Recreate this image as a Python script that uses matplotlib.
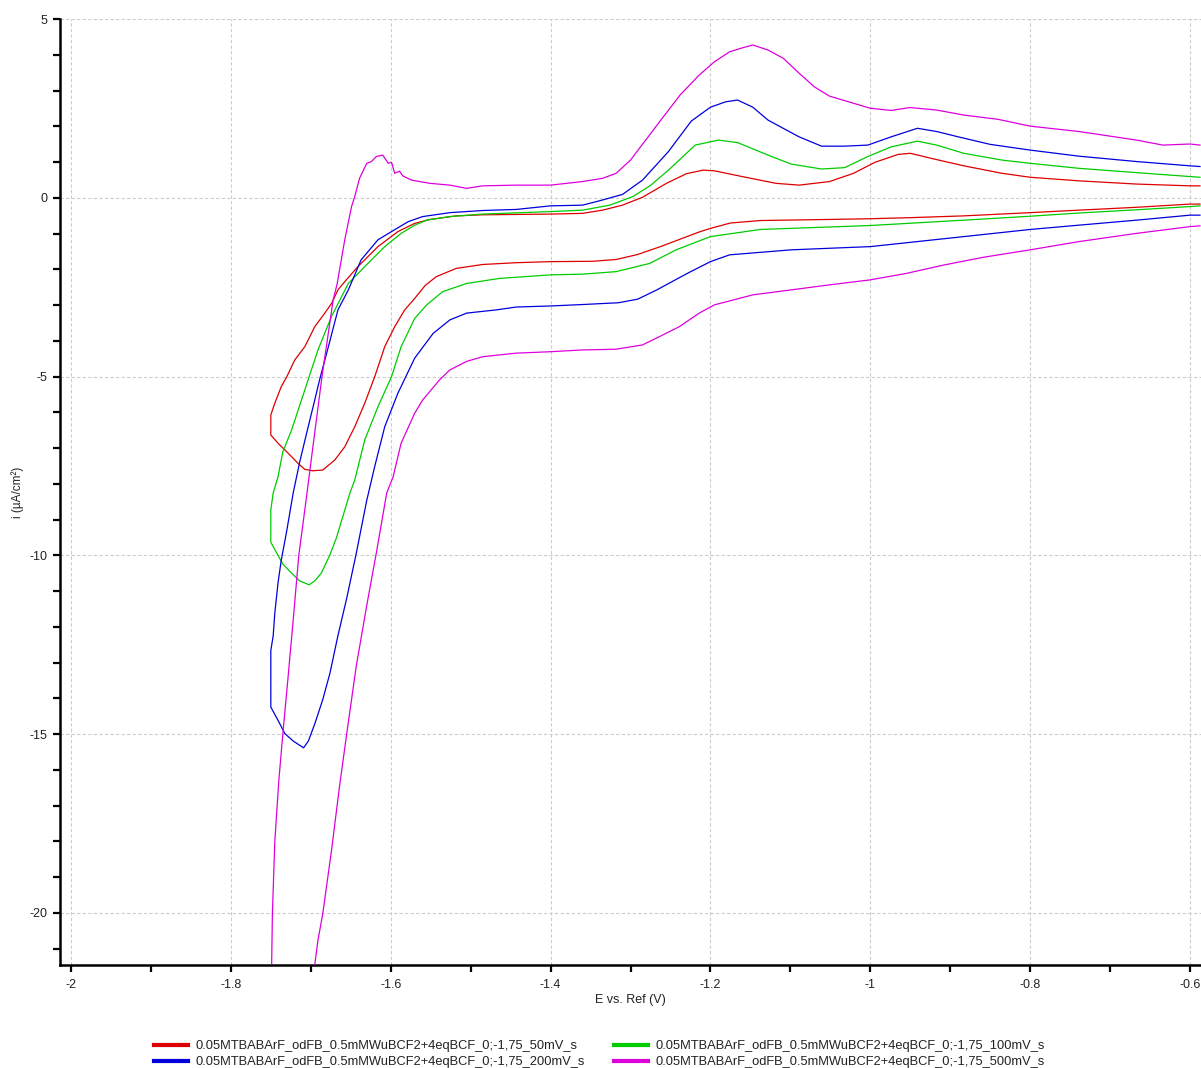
import matplotlib
matplotlib.use("Agg")
import matplotlib.pyplot as plt
from matplotlib.ticker import MultipleLocator, FixedLocator, FixedFormatter

plt.rcParams['font.family'] = ['Liberation Sans Narrow', 'Liberation Sans', 'DejaVu Sans']

# ---------------- cyclic voltammograms (E in V, i in uA/cm2) ----------------
# forward scan: 0 V -> -1.75 V, reverse scan: -1.75 V -> 0 V

labels = [
    "0.05MTBABArF_odFB_0.5mMWuBCF2+4eqBCF_0;-1,75_50mV_s",
    "0.05MTBABArF_odFB_0.5mMWuBCF2+4eqBCF_0;-1,75_100mV_s",
    "0.05MTBABArF_odFB_0.5mMWuBCF2+4eqBCF_0;-1,75_200mV_s",
    "0.05MTBABArF_odFB_0.5mMWuBCF2+4eqBCF_0;-1,75_500mV_s",
]
colors = ["#dd0000", "#00cc00", "#0000dd", "#dd00dd"]

# 50 mV/s
red_fwd_E = [-0.5875, -0.6, -0.667, -0.739, -0.8, -0.883, -0.95, -1.0, -1.051, -1.1375, -1.175,
             -1.2, -1.214, -1.2625, -1.291, -1.318, -1.347, -1.40, -1.443, -1.485, -1.518, -1.543,
             -1.557, -1.57, -1.5825, -1.595, -1.6075, -1.62, -1.6325, -1.645, -1.6575, -1.67,
             -1.685, -1.6975, -1.7075, -1.716, -1.730, -1.741, -1.75]
red_fwd_i = [-0.17, -0.17, -0.26, -0.34, -0.41, -0.50, -0.55, -0.58, -0.60, -0.63, -0.70,
             -0.85, -0.95, -1.36, -1.58, -1.72, -1.77, -1.78, -1.81, -1.86, -1.97, -2.20,
             -2.45, -2.81, -3.13, -3.60, -4.16, -5.00, -5.74, -6.40, -6.96, -7.33,
             -7.61, -7.63, -7.59, -7.42, -7.10, -6.86, -6.63]
red_rev_E = [-1.75, -1.745, -1.737, -1.730, -1.72, -1.7075, -1.695, -1.6825, -1.674, -1.666,
             -1.6575, -1.641, -1.616, -1.591, -1.57, -1.551, -1.518, -1.485, -1.40, -1.36,
             -1.335, -1.31, -1.285, -1.255, -1.23, -1.209, -1.195, -1.156, -1.118, -1.089,
             -1.051, -1.021, -0.994, -0.965, -0.950, -0.922, -0.883, -0.835, -0.8, -0.739,
             -0.667, -0.6, -0.5875]
red_rev_i = [-6.07, -5.74, -5.28, -5.00, -4.53, -4.16, -3.60, -3.22, -2.95, -2.57,
             -2.34, -1.92, -1.36, -0.94, -0.71, -0.60, -0.50, -0.47, -0.45, -0.43,
             -0.34, -0.20, 0.02, 0.41, 0.68, 0.78, 0.76, 0.58, 0.41, 0.36,
             0.46, 0.69, 1.00, 1.22, 1.25, 1.10, 0.90, 0.69, 0.58, 0.48,
             0.39, 0.34, 0.34]

# 100 mV/s
green_fwd_E = [-0.5875, -0.6, -0.667, -0.739, -0.8, -0.883, -1.0, -1.1375, -1.2, -1.243, -1.276,
               -1.318, -1.36, -1.40, -1.464, -1.505, -1.535, -1.555, -1.57, -1.587, -1.599,
               -1.616, -1.6325, -1.645, -1.651, -1.668, -1.676, -1.687, -1.695, -1.702, -1.714,
               -1.726, -1.735, -1.75]
green_fwd_i = [-0.22, -0.24, -0.33, -0.42, -0.51, -0.62, -0.77, -0.88, -1.08, -1.45, -1.83,
               -2.06, -2.13, -2.15, -2.25, -2.39, -2.62, -2.99, -3.37, -4.16, -5.00,
               -5.84, -6.77, -7.89, -8.25, -9.51, -9.98, -10.50, -10.71, -10.82, -10.71,
               -10.45, -10.24, -9.63]
green_rev_E = [-1.75, -1.747, -1.741, -1.735, -1.724, -1.7075, -1.691, -1.674, -1.653, -1.6325,
               -1.6075, -1.587, -1.57, -1.555, -1.526, -1.485, -1.40, -1.36, -1.326, -1.297,
               -1.275, -1.2525, -1.219, -1.19, -1.166, -1.128, -1.099, -1.061, -1.032, -1.003,
               -0.974, -0.941, -0.917, -0.883, -0.835, -0.8, -0.739, -0.667, -0.6, -0.5875]
green_rev_i = [-8.72, -8.25, -7.80, -7.10, -6.49, -5.37, -4.25, -3.31, -2.39, -1.92,
               -1.36, -0.99, -0.76, -0.62, -0.52, -0.45, -0.38, -0.34, -0.20, 0.04,
               0.35, 0.78, 1.48, 1.62, 1.55, 1.20, 0.95, 0.81, 0.85, 1.16,
               1.43, 1.59, 1.48, 1.25, 1.06, 0.97, 0.83, 0.71, 0.60, 0.58]

# 200 mV/s
blue_fwd_E = [-0.5875, -0.6, -0.667, -0.739, -0.8, -0.883, -1.0, -1.099, -1.1375, -1.176, -1.2,
              -1.229, -1.267, -1.291, -1.315, -1.36, -1.40, -1.443, -1.468, -1.505, -1.526,
              -1.547, -1.57, -1.591, -1.6075, -1.62, -1.630, -1.643, -1.655, -1.666, -1.676,
              -1.685, -1.695, -1.703, -1.709, -1.722, -1.7325, -1.741, -1.75]
blue_fwd_i = [-0.48, -0.48, -0.62, -0.76, -0.88, -1.08, -1.36, -1.45, -1.52, -1.59, -1.78,
              -2.11, -2.57, -2.83, -2.93, -2.98, -3.02, -3.05, -3.13, -3.22, -3.41,
              -3.79, -4.48, -5.46, -6.40, -7.51, -8.46, -9.93, -11.19, -12.24, -13.29,
              -14.03, -14.71, -15.19, -15.38, -15.19, -14.98, -14.61, -14.24]
blue_rev_E = [-1.75, -1.747, -1.745, -1.741, -1.737, -1.730, -1.722, -1.714, -1.705, -1.697,
              -1.689, -1.678, -1.666, -1.653, -1.637, -1.616, -1.599, -1.578, -1.56, -1.526,
              -1.485, -1.443, -1.40, -1.36, -1.339, -1.31, -1.285, -1.2525, -1.224, -1.2,
              -1.181, -1.166, -1.147, -1.128, -1.109, -1.089, -1.061, -1.032, -1.003, -0.974,
              -0.941, -0.917, -0.888, -0.850, -0.8, -0.739, -0.667, -0.6, -0.5875]
blue_rev_i = [-12.66, -12.24, -11.61, -10.77, -10.14, -9.30, -8.25, -7.40, -6.56, -5.83,
              -5.09, -4.16, -3.13, -2.57, -1.73, -1.17, -0.94, -0.66, -0.52, -0.41,
              -0.35, -0.32, -0.22, -0.20, -0.08, 0.10, 0.50, 1.30, 2.15, 2.54,
              2.69, 2.74, 2.54, 2.18, 1.95, 1.71, 1.45, 1.45, 1.48, 1.71,
              1.95, 1.86, 1.70, 1.50, 1.34, 1.17, 1.02, 0.90, 0.88]

# 500 mV/s
mag_fwd_E = [-0.5875, -0.6, -0.667, -0.739, -0.8, -0.859, -0.907, -0.955, -1.0, -1.051, -1.099,
             -1.147, -1.195, -1.214, -1.239, -1.264, -1.285, -1.318, -1.36, -1.40, -1.443,
             -1.485, -1.505, -1.526, -1.539, -1.56, -1.57, -1.587, -1.597, -1.605, -1.618,
             -1.630, -1.643, -1.655, -1.664, -1.674, -1.685, -1.691, -1.70, -1.72, -1.75]
mag_fwd_i = [-0.78, -0.80, -0.99, -1.22, -1.45, -1.66, -1.87, -2.11, -2.29, -2.43, -2.57,
             -2.71, -2.99, -3.22, -3.60, -3.88, -4.11, -4.23, -4.25, -4.30, -4.34,
             -4.44, -4.57, -4.81, -5.09, -5.65, -6.02, -6.86, -7.80, -8.25, -9.93,
             -11.40, -13.08, -14.98, -16.45, -18.24, -20.02, -20.76, -22.30, -24.50, -25.50]
mag_rev_E = [-1.75, -1.749, -1.748, -1.745, -1.740, -1.735, -1.728, -1.722, -1.715, -1.705,
             -1.697, -1.686, -1.672, -1.667, -1.6575, -1.649, -1.645, -1.639, -1.630,
             -1.624, -1.618, -1.610, -1.603, -1.599, -1.595, -1.589, -1.585, -1.574, -1.551,
             -1.526, -1.505, -1.485, -1.443, -1.40, -1.36, -1.335, -1.318, -1.30, -1.281,
             -1.262, -1.238, -1.214, -1.195, -1.176, -1.160, -1.147, -1.128, -1.109, -1.089,
             -1.07, -1.051, -1.027, -1.0, -0.974, -0.95, -0.917, -0.883, -0.840, -0.8,
             -0.739, -0.667, -0.634, -0.6, -0.5875]
mag_rev_i = [-23.00, -21.50, -20.00, -18.00, -16.30, -15.00, -13.30, -11.80, -10.00, -8.30,
             -6.90, -5.00, -2.85, -2.40, -1.17, -0.24, 0.04, 0.55, 0.97,
             1.02, 1.16, 1.20, 0.97, 1.00, 0.69, 0.75, 0.62, 0.50, 0.41,
             0.36, 0.27, 0.34, 0.36, 0.36, 0.46, 0.55, 0.69, 1.06, 1.62,
             2.18, 2.88, 3.44, 3.81, 4.09, 4.20, 4.28, 4.14, 3.91, 3.49,
             3.11, 2.85, 2.69, 2.51, 2.45, 2.53, 2.46, 2.32, 2.20, 2.01,
             1.86, 1.62, 1.48, 1.51, 1.48]

curves = [
    (red_fwd_E, red_fwd_i, red_rev_E, red_rev_i),
    (green_fwd_E, green_fwd_i, green_rev_E, green_rev_i),
    (blue_fwd_E, blue_fwd_i, blue_rev_E, blue_rev_i),
    (mag_fwd_E, mag_fwd_i, mag_rev_E, mag_rev_i),
]

x_ticks = [-2.0, -1.8, -1.6, -1.4, -1.2, -1.0, -0.8, -0.6]
x_ticklabels = ["-2", "-1.8", "-1.6", "-1.4", "-1.2", "-1", "-0.8", "-0.6"]
y_ticks = [-20, -15, -10, -5, 0, 5]
y_ticklabels = ["-20", "-15", "-10", "-5", "0", "5"]

# ---------------- figure ----------------
W, H = 1201, 1068
fig = plt.figure(figsize=(W / 100, H / 100), dpi=100)
ax = fig.add_axes([60 / W, (H - 965) / H, (W - 60) / W, (965 - 19) / H])

lines = []
for (fe, fi, re, ri), col in zip(curves, colors):
    ln, = ax.plot(list(fe) + list(re), list(fi) + list(ri), color=col, lw=0.9,
                  solid_joinstyle='round', zorder=3)
    lines.append(ln)

ax.set_xlim(-2.01375, -0.58625)
ax.set_ylim(-21.455, 5.007)

for s in ("top", "right"):
    ax.spines[s].set_visible(False)
for s in ("left", "bottom"):
    ax.spines[s].set_linewidth(1.8)
    ax.spines[s].set_color("black")

ax.xaxis.set_major_locator(FixedLocator(x_ticks))
ax.xaxis.set_major_formatter(FixedFormatter(x_ticklabels))
ax.xaxis.set_minor_locator(MultipleLocator(0.1))
ax.yaxis.set_major_locator(FixedLocator(y_ticks))
ax.yaxis.set_major_formatter(FixedFormatter(y_ticklabels))
ax.yaxis.set_minor_locator(MultipleLocator(1))

ax.tick_params(which="both", direction="out", length=5, width=1.6, color="black",
               labelsize=9, labelcolor="#222222")
ax.tick_params(axis="x", pad=5)
ax.tick_params(axis="y", pad=4)

ax.grid(True, which="major", color="#cccccc", lw=0.8, ls=(0, (3, 2)), zorder=0)

ax.set_xlabel("E vs. Ref (V)", fontsize=9, color="#222222", labelpad=2)
ax.set_ylabel("i (µA/cm²)", fontsize=8.5, color="#222222", labelpad=4)

order = [0, 2, 1, 3]
leg = fig.legend([lines[k] for k in order], [labels[k] for k in order],
                 loc="upper left", bbox_to_anchor=(154 / W, 1 - 1040 / H), ncol=2,
                 frameon=False, fontsize=9.3, handlelength=2.65, handletextpad=0.55,
                 columnspacing=2.25, labelspacing=0.32, borderpad=0, borderaxespad=0)
for h in leg.get_lines():
    h.set_linewidth(3.0)
for t in leg.get_texts():
    t.set_color("#222222")

fig.savefig("out.png", dpi=100)
